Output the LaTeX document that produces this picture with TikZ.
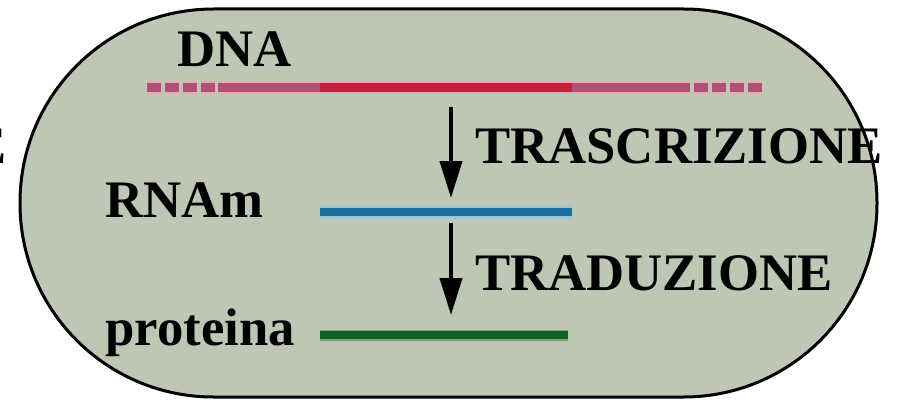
\documentclass[tikz,border=0pt]{standalone}
\usepackage{fontspec}
\setmainfont{Liberation Serif}
\usetikzlibrary{positioning,arrows.meta}
\definecolor{cellfill}{RGB}{189,199,180}
\definecolor{dnared}{RGB}{205,28,62}
\definecolor{dnamauve}{RGB}{178,80,114}
\definecolor{dnahalo}{RGB}{228,170,186}
\definecolor{rnablue}{RGB}{28,108,160}
\definecolor{rnahalo}{RGB}{150,200,214}
\definecolor{protgreen}{RGB}{18,98,38}
\definecolor{prothalo}{RGB}{120,168,122}

\begin{document}
\begin{tikzpicture}[
  word/.style={
    font=\bfseries\fontsize{30}{36}\selectfont,
    inner sep=0pt,
    anchor=base west
  },
  strand/.style={line width=1.8mm},
  halo/.style={line width=2.6mm},
  gaps/.style={dash pattern=on 2.8mm off .8mm},
  flow/.style={line width=.8mm,-{Triangle[length=7.4mm,width=4.4mm]}}
]
  \useasboundingbox (0,0) rectangle (18.02,8.02);

  % cell
  \draw[line width=.6mm,fill=cellfill,rounded corners=3.87cm]
    (0.4,0.08) rectangle (17.54,7.84);

  % labels
  \node[word] (dna) at (3.54,6.68) {DNA};
  \node[word] (rna) at (2.1,3.68) {RNAm};
  \node[word] (prot) at (2.1,1.12) {proteina};
  \node[word] (trasc) at (9.5,4.76) {TRASCRIZIONE};
  \node[word] (trad) at (9.5,2.22) {TRADUZIONE};
  \node[word,anchor=base east] (cut) at (0.14,4.76) {E};

  % strands
  \coordinate (d0) at (2.94,6.26);
  \coordinate (d1) at (4.36,6.26);
  \coordinate (d2) at (6.4,6.26);
  \coordinate (d3) at (11.44,6.26);
  \coordinate (d4) at (13.8,6.26);
  \coordinate (d5) at (15.24,6.26);
  \coordinate (r0) at (6.4,3.78);
  \coordinate (r1) at (11.44,3.78);
  \coordinate (p0) at (6.4,1.32);
  \coordinate (p1) at (11.36,1.32);

  \draw[halo,dnahalo,gaps] (d0) -- (d1);
  \draw[halo,dnahalo] (d1) -- (d4);
  \draw[halo,dnahalo,gaps,dash phase=2.8mm] (d4) -- (d5);
  \draw[strand,dnamauve,gaps] (d0) -- (d1);
  \draw[strand,dnamauve] (d1) -- (d2);
  \draw[strand,dnared] (d2) -- (d3);
  \draw[strand,dnamauve] (d3) -- (d4);
  \draw[strand,dnamauve,gaps,dash phase=2.8mm] (d4) -- (d5);

  \draw[halo,rnahalo] (r0) -- (r1);
  \draw[strand,rnablue,line width=1.5mm] (r0) -- (r1);
  \draw[halo,prothalo,line width=2.2mm] (p0) -- (p1);
  \draw[strand,protgreen,line width=1.6mm] (p0) -- (p1);

  % arrows
  \coordinate (a0) at (9.02,5.88);
  \coordinate (a1) at (9.02,4.06);
  \coordinate (b0) at (9.02,3.56);
  \coordinate (b1) at (9.02,1.72);
  \draw[flow] (a0) -- (a1);
  \draw[flow] (b0) -- (b1);
\end{tikzpicture}
\end{document}
